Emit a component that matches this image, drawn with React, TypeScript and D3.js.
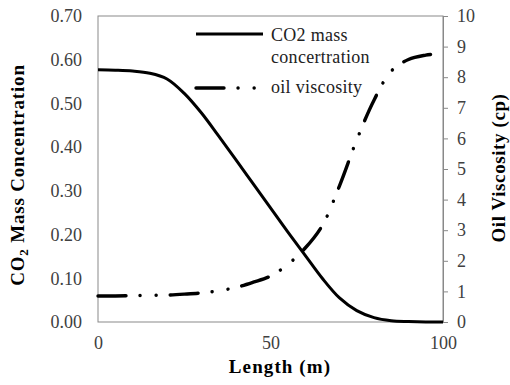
import React, { useEffect, useRef } from 'react';
import * as d3 from 'd3';

// Length along the core (m)
const lengths = [0, 5, 10, 15, 20, 25, 30, 35, 40, 45, 50, 55, 60, 65, 70, 75, 80, 85, 90, 95, 100];
// CO2 mass concentration (left axis)
const co2Conc = [0.577, 0.576, 0.574, 0.569, 0.556, 0.523, 0.478, 0.425, 0.371, 0.316, 0.261, 0.206, 0.153, 0.1, 0.055, 0.026, 0.01, 0.003, 0.001, 0, 0];
// oil viscosity, cp (right axis)
const oilVisc = [0.85, 0.85, 0.86, 0.87, 0.88, 0.91, 0.95, 1.02, 1.13, 1.3, 1.5, 1.88, 2.41, 3.15, 4.45, 5.95, 7.25, 8.2, 8.58, 8.72, 8.78];

const xTicks = [0, 50, 100];
const leftTicks = [0, 0.1, 0.2, 0.3, 0.4, 0.5, 0.6, 0.7];
const rightTicks = [0, 1, 2, 3, 4, 5, 6, 7, 8, 9, 10];

const seriesNames = ['CO2 mass', 'concertration', 'oil viscosity'];

const App = () => {
    const svgRef = useRef(null);

    useEffect(() => {
        const svg = d3.select(svgRef.current);
        svg.selectAll('*').remove();

        const width = 510;
        const height = 385;
        const margin = { top: 16, right: 67, bottom: 63, left: 98 };
        const font = '"Liberation Serif", "Times New Roman", serif';
        const axisGray = '#898989';
        const labelColor = '#404040';

        const x = d3.scaleLinear().domain([0, 100]).range([margin.left, width - margin.right]);
        const yL = d3.scaleLinear().domain([0, 0.7]).range([height - margin.bottom, margin.top]);
        const yR = d3.scaleLinear().domain([0, 10]).range([height - margin.bottom, margin.top]);

        // plot frame
        svg.append('rect')
            .attr('x', margin.left)
            .attr('y', margin.top)
            .attr('width', width - margin.left - margin.right)
            .attr('height', height - margin.top - margin.bottom)
            .attr('fill', 'none')
            .attr('stroke', axisGray)
            .attr('stroke-width', 1);

        // left axis labels
        const gl = svg.append('g')
            .attr('transform', `translate(${margin.left},0)`)
            .call(d3.axisLeft(yL).tickValues(leftTicks).tickSize(0).tickPadding(16).tickFormat(d3.format('.2f')));
        gl.select('.domain').remove();
        gl.selectAll('text').attr('font-family', font).attr('font-size', 18).attr('fill', labelColor);

        // right axis with outward ticks
        const gr = svg.append('g')
            .attr('transform', `translate(${width - margin.right},0)`)
            .call(d3.axisRight(yR).tickValues(rightTicks).tickSize(5).tickPadding(9));
        gr.select('.domain').attr('stroke', axisGray);
        gr.selectAll('line').attr('stroke', axisGray);
        gr.selectAll('text').attr('font-family', font).attr('font-size', 18).attr('fill', labelColor);

        // bottom axis labels
        const gb = svg.append('g')
            .attr('transform', `translate(0,${height - margin.bottom})`)
            .call(d3.axisBottom(x).tickValues(xTicks).tickSize(0).tickPadding(14));
        gb.select('.domain').remove();
        gb.selectAll('text').attr('font-family', font).attr('font-size', 18).attr('fill', labelColor);

        // axis titles
        svg.append('text')
            .attr('x', 280)
            .attr('y', 373)
            .attr('text-anchor', 'middle')
            .attr('font-family', font)
            .attr('font-size', 19)
            .attr('font-weight', 'bold')
            .attr('letter-spacing', 1.1)
            .text('Length (m)');

        const lt = svg.append('text')
            .attr('transform', 'translate(24,175) rotate(-90)')
            .attr('text-anchor', 'middle')
            .attr('font-family', font)
            .attr('font-size', 19)
            .attr('font-weight', 'bold')
            .attr('letter-spacing', 0.8);
        lt.append('tspan').text('CO');
        lt.append('tspan').attr('font-size', 13).attr('dy', 4).text('2');
        lt.append('tspan').attr('dy', -4).text(' Mass Concentration');

        svg.append('text')
            .attr('transform', 'translate(505,168) rotate(-90)')
            .attr('text-anchor', 'middle')
            .attr('font-family', font)
            .attr('font-size', 19)
            .attr('font-weight', 'bold')
            .attr('letter-spacing', 0.6)
            .text('Oil Viscosity (cp)');

        const dashDot = '28,14,0.1,16,0.1,14';

        const lineL = d3.line().x((d, i) => x(lengths[i])).y((d) => yL(d)).curve(d3.curveCatmullRom.alpha(0.5));
        const lineR = d3.line().x((d, i) => x(lengths[i])).y((d) => yR(d)).curve(d3.curveCatmullRom.alpha(0.5));

        svg.append('path')
            .datum(oilVisc)
            .attr('d', lineR)
            .attr('fill', 'none')
            .attr('stroke', '#000')
            .attr('stroke-width', 3.4)
            .attr('stroke-linecap', 'round')
            .attr('stroke-dasharray', dashDot);

        svg.append('path')
            .datum(co2Conc)
            .attr('d', lineL)
            .attr('fill', 'none')
            .attr('stroke', '#000')
            .attr('stroke-width', 3);

        // legend
        const lg = svg.append('g');
        lg.append('line')
            .attr('x1', 196).attr('x2', 263).attr('y1', 34).attr('y2', 34)
            .attr('stroke', '#000').attr('stroke-width', 3);
        lg.append('line')
            .attr('x1', 196).attr('x2', 263).attr('y1', 88).attr('y2', 88)
            .attr('stroke', '#000').attr('stroke-width', 3.4)
            .attr('stroke-linecap', 'round')
            .attr('stroke-dasharray', dashDot);
        lg.selectAll('text.leg')
            .data(seriesNames)
            .join('text')
            .attr('class', 'leg')
            .attr('x', 271)
            .attr('y', (d, i) => [41, 63, 93][i])
            .attr('font-family', font)
            .attr('font-size', 18)
            .attr('letter-spacing', 0.3)
            .attr('fill', '#222')
            .text((d) => d);
    }, []);

    return (
        <svg ref={svgRef} width={510} height={385} style={{ position: 'absolute', left: 0, top: 0, background: '#fff' }}></svg>
    );
};

export default App;
